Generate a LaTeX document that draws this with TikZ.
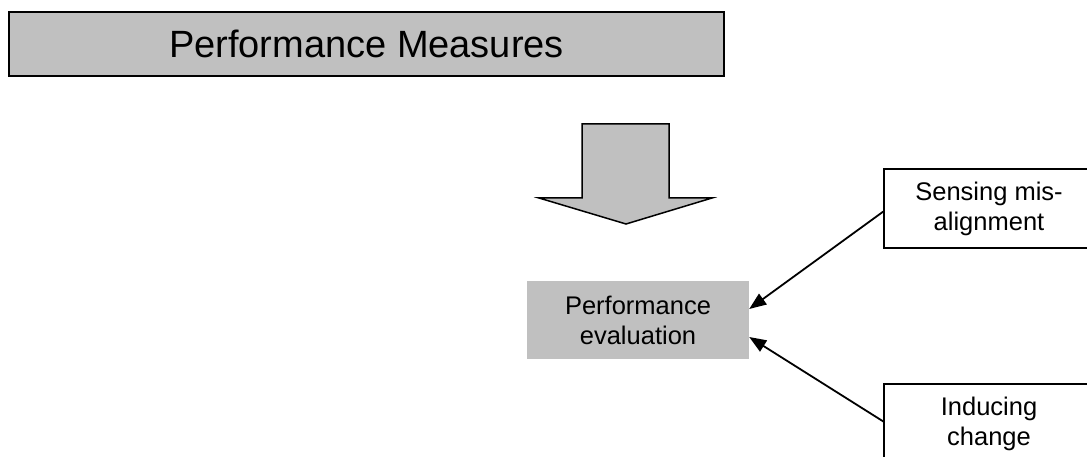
\documentclass[tikz,border=0pt]{standalone}
\usepackage{fontspec}
\setmainfont{Liberation Sans}
\usetikzlibrary{arrows.meta}
\definecolor{boxgray}{HTML}{C0C0C0}
\begin{document}
\begin{tikzpicture}[x=1pt, y=-1pt,
  every node/.style={font=\fontsize{25.5}{30}\selectfont, align=center, inner sep=0pt},
  titlebox/.style={draw, fill=boxgray, line width=2pt, minimum width=715pt, minimum height=64pt, font=\fontsize{38}{44}\selectfont},
  evalbox/.style={fill=boxgray, minimum width=222pt, minimum height=78pt},
  sidebox/.style={draw, line width=1.3pt, minimum width=210pt, minimum height=79pt},
  feed/.style={line width=1.8pt, -{Triangle[length=17pt, width=13pt]}}]
  \useasboundingbox (0,0) rectangle (1087,457);
  \clip (0,0) rectangle (1087,457);
  \node[titlebox] (measures) at (366.5,44) {Performance Measures};
  \filldraw[fill=boxgray, line width=1.5pt, line join=miter]
    (582,124) -- (669,124) -- (669,198) -- (712,198) -- (626,224)
    -- (539,198) -- (582,198) -- cycle;
  \node[evalbox] (perf) at (638,320) {Performance\\evaluation};
  \node[sidebox] (sense) at (989,208.5) {Sensing mis-\\alignment};
  \node[sidebox] (induce) at (989,423.5) {Inducing\\change};
  \draw[feed] ([yshift=-3pt]sense.west) -- ([yshift=11pt]perf.east);
  \draw[feed] ([yshift=2pt]induce.west) -- ([yshift=-17pt]perf.east);
\end{tikzpicture}
\end{document}
